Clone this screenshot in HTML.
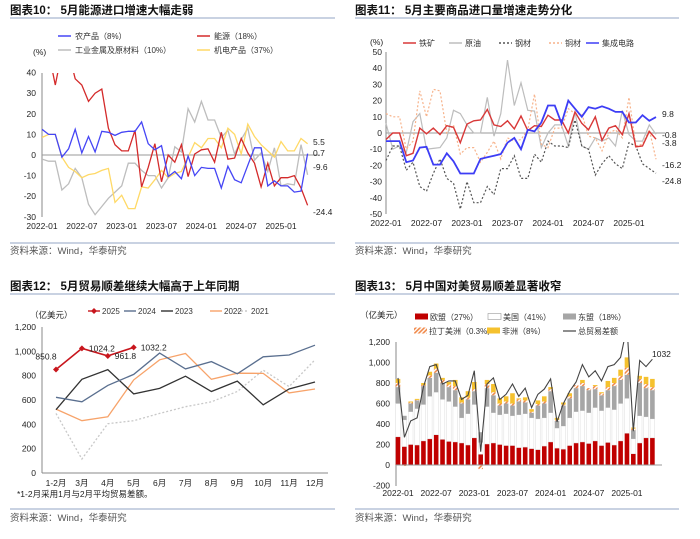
<!DOCTYPE html>
<html><head><meta charset="utf-8">
<style>
html,body{margin:0;padding:0;background:#fff;}
svg{display:block;font-family:"Liberation Sans","Noto Sans CJK SC",sans-serif;}
.t{font-size:11.5px;font-weight:bold;fill:#111;}
.tk{font-size:8.5px;fill:#222;}
.lg{font-size:8px;fill:#333;}
.src{font-size:9.5px;fill:#555;}
</style></head>
<body>
<svg id="s" width="700" height="539" viewBox="0 0 700 539" xmlns="http://www.w3.org/2000/svg">
<defs>
<pattern id="hatch" width="3" height="3" patternUnits="userSpaceOnUse" patternTransform="rotate(45)">
<rect width="3" height="3" fill="#fff"/><rect width="1.6" height="3" fill="#f08a4b"/></pattern>
<clipPath id="c1"><rect x="42" y="73" width="285" height="145"/></clipPath>
<clipPath id="c4"><rect x="396" y="342" width="270" height="150"/></clipPath>
</defs>
</svg>
<script>
// ---------- Chart 10 data ----------
const c10Agri=[12.5,10,10,-1,3,12.5,1,9,1.5,11.5,11,9.5,11,11.5,11.5,16,5.5,2.5,4.5,-10.5,-8,-11.5,-0.5,-10,-6,-6.5,-6.5,-16,-5.5,-12,-13.5,-5,3.5,3.5,-15,-12.5,-15,-15,-18,-17.5,0.7];
const c10Energy=[50,50,34,50,50,37,34,26,30,32,13,5,2,2,12,-15.5,-6,5.5,-13,0,-3.5,5,-10.5,0.5,2.5,3,-3.5,11,-2,-1.5,8,1,-4,-15.5,-4,-15,-11,-11,-10,-16,-24.4];
const c10Metal=[-2,-3,-3,-17,-14,-6.5,-11,-24,-29,-25,-21,-18,-15,-4,-4,-7.5,-10,-10,-16,-11,4,1.5,22.5,16,26,17,17,8.5,12,0.5,7.5,13,-2.5,1,-8,3.5,-15,-14,-14.5,5,-9.6];
const c10Mech=[8.5,10,10,-1,-6,-8,-11,-9.5,-9,-7.5,-6.5,-23,-19.5,-26,-26,-15.5,-16,-12,-7.5,-11,-9,-8,-1,6,3.5,8,8,3.5,13,10,0.5,15,9,5,2,-1,6.5,2,2,8,5.5];
const c10YTicks=[40,30,20,10,0,-10,-20,-30];
const c10XLabels=["2022-01","2022-07","2023-01","2023-07","2024-01","2024-07","2025-01"];
// ---------- Chart 11 data ----------
const c11Iron=[-4,0,0,-14,-12.5,3,-0.5,3,-1,4.5,3.5,-6,5.5,7.5,8,14.5,5,4,7.5,2.5,10.5,1.5,4.5,4,11,8,8,0,13,6,2,10,-4.5,3,4.5,-1,12,-8.5,-8,1,-3.8];
const c11Oil=[6,-10,-8,-12,7,12,-10,-9.5,-9,-3,14,12,5,0,0,22,-2,12,45,17,31,14,13.5,-9,0,5,5,-8,13,-8,-10,-3,-5,-3,-8,14,-1,-5,-5,5,-0.8];
const c11Steel=[-17,-8,-8,-23,-18,-33,-36,-25,-16,-28,-31,-47,-30,-43,-43,-33,-38,-22,-22,-14,-28,-28,-13,-18,-5,-8,-8,-9,8,-8,-10,-26,-19,-14,-19,-22,-6,-8,-19,-22,-24.8];
const c11Copper=[12,10,10,-10,-5,26,10,27,26,0,5,-13,-9,-9,-18,-12,-5,-16,-3,-5,-4,2,24,-7,-9,3,3,15,12,12,-2,-3,-11,0,2,-3,22,-8,-7,2,-16.2];
const c11IC=[-5,-5,-5,-18,-17,-9,-8.5,-19.5,-19.5,-12.5,-17.5,-25,-25,-25,-16,-15,-14,-13,-6,-3,-10,2,1,6.5,17,17,6,20,15,10,16,15,16.5,15,13,13,6.5,6.5,11,7.5,9.8];
const c11YTicks=[50,40,30,20,10,0,-10,-20,-30,-40,-50];
// ---------- Chart 12 data ----------
const c12Cats=["1-2月","3月","4月","5月","6月","7月","8月","9月","10月","11月","12月"];
const c12Y2025=[850.8,1024.2,961.8,1032.2];
const c12Y2024=[622,585,720,810,985,855,915,815,955,970,1050];
const c12Y2023=[520,770,850,650,695,795,670,755,560,690,748];
const c12Y2022=[525,430,462,765,930,982,770,820,818,658,690];
const c12Y2021=[490,115,405,430,490,545,585,670,845,710,930];
const c12YTicks=[0,200,400,600,800,1000,1200];
// ---------- Chart 13 data ----------
const c13EU=[275,180,200,195,235,255,295,250,230,225,215,195,265,105,205,215,200,190,190,170,175,160,150,185,225,165,155,190,215,225,210,235,190,220,195,235,310,110,215,265,265];
const c13US=[325,260,320,355,355,415,415,390,390,345,245,305,325,115,365,295,290,310,290,320,325,300,300,275,285,195,225,270,305,305,300,325,340,340,345,365,340,145,265,205,185];
const c13ASEAN=[160,40,80,80,180,180,190,160,140,160,140,140,130,100,180,170,90,100,100,130,110,50,130,140,210,70,200,190,230,240,220,180,150,170,230,230,230,85,320,280,280];
const c13LatAm=[40,-10,10,5,10,25,40,30,25,40,10,20,20,-40,40,30,20,20,20,20,20,10,15,20,20,10,10,20,30,30,20,30,20,30,30,40,70,15,40,40,30];
const c13Africa=[40,0,10,10,20,35,50,20,25,60,50,60,70,0,40,80,50,50,100,10,30,25,35,50,20,20,20,30,0,30,0,10,10,60,50,60,100,10,30,70,80];
const c13Total=[850,270,430,460,760,960,980,790,820,820,640,680,920,130,790,850,640,690,790,670,750,560,690,740,840,420,600,720,810,980,860,920,820,960,980,1050,1350,330,1020,960,1032];
const c13YTicks=[-200,0,200,400,600,800,1000,1200];

const S=document.getElementById('s');
const NS='http://www.w3.org/2000/svg';
function mk(tag,attrs,parent){const e=document.createElementNS(NS,tag);for(const k in attrs)e.setAttribute(k,attrs[k]);(parent||S).appendChild(e);return e;}
function txt(x,y,s,cls,anchor,fill,parent){const e=mk('text',{x:x,y:y,class:cls,'text-anchor':anchor||'start'},parent);if(fill)e.setAttribute('fill',fill);e.textContent=s;return e;}
function poly(vals,xf,yf,style,parent){let d='';vals.forEach((v,i)=>{d+=(i?'L':'M')+xf(i).toFixed(1)+','+yf(v).toFixed(1);});const p=mk('path',Object.assign({d:d,fill:'none'},style),parent);return p;}

// ---------- Frames ----------
function frame(x0,x1,ty,ly,sly,sy,title,nm){
  const t=txt(x0,ty,title,'t');
  
  
  mk('line',{x1:x0,x2:x1,y1:ly,y2:ly,stroke:'#a9b8d0','stroke-width':1.2});
  mk('line',{x1:x0,x2:x1,y1:sly,y2:sly,stroke:'#a9b8d0','stroke-width':1.2});
  const s=txt(x0,sy,'资料来源：Wind，华泰研究','src');
  
  
}
frame(10,335,14,18,243,254,'图表10：  5月能源进口增速大幅走弱','chart10');
frame(355,679,14,18,243,254,'图表11：  5月主要商品进口量增速走势分化','chart11');
frame(10,335,290,294,509,521,'图表12：  5月贸易顺差继续大幅高于上年同期','chart12');
frame(355,679,290,294,509,521,'图表13：  5月中国对美贸易顺差显著收窄','chart13');

// ---------- Chart 10 ----------
(function(){
  const g=mk('g',{});
  
  
  const x=i=>42+i*6.64, y=v=>155-v*2.06;
  c10YTicks.forEach(v=>{const t=txt(36,y(v)+3,String(v),'tk','end',null,g);
    
    });
  mk('line',{x1:42,x2:42,y1:73,y2:217,stroke:'#888'},g);
  mk('line',{x1:42,x2:320,y1:y(0),y2:y(0),stroke:'#999'},g);
  c10XLabels.forEach((s,k)=>{const t=txt(x(k*6),229,s,'tk','middle',null,g);
    
    });
  txt(33,55,'(%)','tk','start',null,g);
  const cg=mk('g',{'clip-path':'url(#c1)'},g);
  [[c10Metal,'#bdbdbd','metal'],[c10Mech,'#ffd966','mech'],[c10Energy,'#d42a2a','energy'],[c10Agri,'#4545f5','agri']].forEach(([d,c,n])=>{
    const p=poly(d,x,y,{stroke:c,'stroke-width':1.3},cg);
    
    
  });
  const lg=[[58,36,'#4545f5','农产品（8%）'],[197,36,'#d42a2a','能源（18%）'],[58,50,'#bdbdbd','工业金属及原材料（10%）'],[197,50,'#ffd966','机电产品（37%）']];
  lg.forEach(([lx,ly,c,s])=>{const e=mk('g',{},g);
    
    
    mk('line',{x1:lx,x2:lx+13,y1:ly,y2:ly,stroke:c,'stroke-width':1.5},e);txt(lx+17,ly+3,s,'lg','start',null,e);});
  [['5.5',142,'#e8b800'],['0.7',153,'#4545f5'],['-9.6',167,'#999'],['-24.4',212,'#d42a2a']].forEach(([s,yy,c])=>{
    const t=txt(313,yy+3,s,'tk','start',c,g);
    
    });
})();

// ---------- Chart 11 ----------
(function(){
  const g=mk('g',{});
  
  
  const x=i=>386+i*6.75, y=v=>133-v*1.62;
  c11YTicks.forEach(v=>{const t=txt(382,y(v)+3,String(v),'tk','end',null,g);
    
    });
  mk('line',{x1:386,x2:386,y1:52,y2:214,stroke:'#888'},g);
  mk('line',{x1:386,x2:665,y1:y(0),y2:y(0),stroke:'#999'},g);
  c10XLabels.forEach((s,k)=>{const t=txt(x(k*6),226,s,'tk','middle',null,g);
    
    });
  txt(370,45,'(%)','tk','start',null,g);
  [[c11Oil,'#bdbdbd','oil',null,1.2],[c11Copper,'#f7b28a','copper','2,2',1.2],[c11Steel,'#555','steel','2,2',1.2],[c11Iron,'#d83838','iron',null,1.4],[c11IC,'#3d3df5','ic',null,1.8]].forEach(([d,c,n,da,w])=>{
    const st={stroke:c,'stroke-width':w};if(da)st['stroke-dasharray']=da;
    const p=poly(d,x,y,st,g);
    
    
  });
  const lg=[[417,'#d83838',null,'铁矿'],[463,'#bdbdbd',null,'原油'],[513,'#555','2,2','钢材'],[563,'#f7b28a','2,2','铜材'],[600,'#3d3df5',null,'集成电路']];
  lg.forEach(([lx,c,da,s])=>{const e=mk('g',{},g);
    
    
    const st={x1:lx-14,x2:lx-1,y1:43,y2:43,stroke:c,'stroke-width':1.5};if(da)st['stroke-dasharray']=da;mk('line',st,e);txt(lx+2,46,s,'lg','start',null,e);});
  [['9.8',114,'#3d3df5'],['-0.8',135,'#888'],['-3.8',143,'#d83838'],['-16.2',165,'#f7a070'],['-24.8',181,'#222']].forEach(([s,yy,c])=>{
    const t=txt(662,yy+3,s,'tk','start',c,g);
    
    });
})();

// ---------- Chart 12 ----------
(function(){
  const g=mk('g',{});
  
  
  const x=i=>56+i*25.9, y=v=>473-v*0.1217;
  c12YTicks.forEach(v=>{const t=txt(36,y(v)+3,v.toLocaleString('en-US'),'tk','end',null,g);
    
    });
  mk('line',{x1:42,x2:42,y1:327,y2:473,stroke:'#888'},g);
  mk('line',{x1:42,x2:328,y1:473,y2:473,stroke:'#888'},g);
  c12Cats.forEach((s,i)=>{const t=txt(x(i),486,s,'tk','middle',null,g);
    
    });
  txt(30,318,'（亿美元）','tk','start',null,g);
  txt(17,497,'*1-2月采用1月与2月平均贸易差额。','tk','start',null,g);
  [[c12Y2021,'#c8c8c8','2021','2,2'],[c12Y2022,'#f7a36a','2022',null],[c12Y2023,'#333','2023',null],[c12Y2024,'#5a6f8f','2024',null]].forEach(([d,c,n,da])=>{
    const st={stroke:c,'stroke-width':1.3};if(da)st['stroke-dasharray']=da;
    const p=poly(d,x,y,st,g);
    
    
  });
  const p=poly(c12Y2025,x,y,{stroke:'#c8161d','stroke-width':1.6},g);
  
  
  c12Y2025.forEach((v,i)=>{
    const m=mk('path',{d:`M${x(i)},${y(v)-3}L${x(i)+3},${y(v)}L${x(i)},${y(v)+3}L${x(i)-3},${y(v)}Z`,fill:'#c8161d'},g);
    
    
    const off=i===0?[-10,-10]:[7,3];
    const t=txt(x(i)+off[0],y(v)+off[1],String(v),'tk',i===0?'middle':'start','#c8161d',g);
    
    
  });
  const lg=[[88,'#c8161d',null,'2025',true],[124,'#5a6f8f',null,'2024'],[161,'#333',null,'2023'],[210,'#f7a36a',null,'2022'],[237,'#c8c8c8','2,2','2021']];
  lg.forEach(([lx,c,da,s,mkr])=>{const e=mk('g',{},g);
    
    
    const st={x1:lx,x2:lx+12,y1:311,y2:311,stroke:c,'stroke-width':1.4};if(da)st['stroke-dasharray']=da;mk('line',st,e);
    if(mkr)mk('path',{d:`M${lx+6},308L${lx+9},311L${lx+6},314L${lx+3},311Z`,fill:c},e);
    txt(lx+14,314,s,'lg','start',null,e);});
})();

// ---------- Chart 13 ----------
(function(){
  const g=mk('g',{});
  
  
  const x=i=>398+i*6.36, y=v=>465-v*0.1025, bw=4.6;
  c13YTicks.forEach(v=>{const t=txt(390,y(v)+3,v.toLocaleString('en-US'),'tk','end',null,g);
    
    });
  mk('line',{x1:396,x2:396,y1:342,y2:486,stroke:'#888'},g);
  c10XLabels.forEach((s,k)=>{const t=txt(x(k*6),496,s,'tk','middle',null,g);
    
    });
  txt(360,318,'（亿美元）','tk','start',null,g);
  const series=[[c13EU,'#c00000','eu'],[c13US,'#fff','us'],[c13ASEAN,'#a6a6a6','asean'],[c13LatAm,'url(#hatch)','latam'],[c13Africa,'#f5c12e','africa']];
  c13EU.forEach((_,i)=>{
    let pos=0,neg=0;
    series.forEach(([arr,c,n])=>{
      const v=arr[i];let y0,y1;
      if(v>=0){y0=pos;y1=pos+v;pos=y1;}else{y0=neg;y1=neg+v;neg=y1;}
      const r=mk('rect',{x:x(i)-bw/2,y:Math.min(y(y0),y(y1)),width:bw,height:Math.abs(y(y1)-y(y0)),fill:c},g);
      if(n==='us'){r.setAttribute('stroke','#ddd');r.setAttribute('stroke-width','0.5');}
      
      
    });
  });
  mk('line',{x1:396,x2:662,y1:y(0),y2:y(0),stroke:'#999'},g);
  const cg=mk('g',{'clip-path':'url(#c4)'},g);
  const p=poly(c13Total,x,y,{stroke:'#444','stroke-width':1.1},cg);
  
  
  const lab=txt(652,357,String(c13Total[c13Total.length-1]),'tk','start',null,g);
  
  
  const lg=[[430,317,'#c00000','欧盟（27%）'],[503,317,'#fff','美国（41%）'],[578,317,'#a6a6a6','东盟（18%）'],[429,331,'url(#hatch)','拉丁美洲（0.3%）'],[502,331,'#f5c12e','非洲（8%）']];
  lg.forEach(([lx,ly,c,s])=>{const e=mk('g',{},g);
    
    
    mk('rect',{x:lx-15,y:ly-3.5,width:13,height:6,fill:c,stroke:c==='#fff'?'#999':'none','stroke-width':0.6},e);
    txt(lx,ly+3,s,'lg','start',null,e);});
  const e=mk('g',{},g);
  
  
  mk('line',{x1:563,x2:576,y1:331,y2:331,stroke:'#444','stroke-width':1.2},e);
  txt(578,334,'总贸易差额','lg','start',null,e);
})();
</script>
</body></html>
